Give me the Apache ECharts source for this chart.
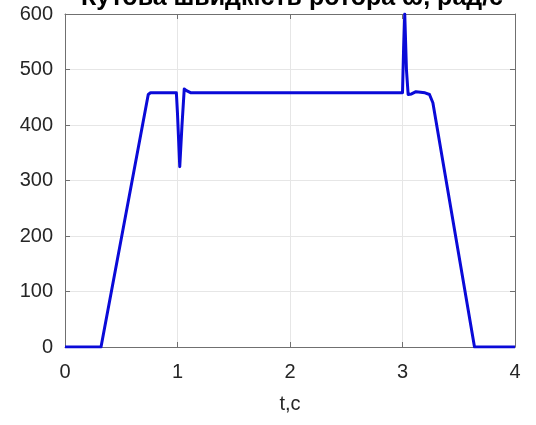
<!DOCTYPE html>
<html>
<head>
<meta charset="utf-8">
<script src="https://cdn.jsdelivr.net/npm/echarts@6/dist/echarts.min.js"></script>
<style>html,body{margin:0;padding:0;background:#fff;}#c{width:536px;height:425px;}</style>
</head>
<body>
<div id="c"></div>
<script>
var titleText = 'Кутова швидкість ротора ω, рад/с';
var xLabel = 't,c';
var tValues = [0, 0.32, 0.74, 0.76, 0.99, 1.0, 1.02, 1.04, 1.06, 1.08, 1.12, 3.0, 3.01, 3.02, 3.035, 3.05, 3.08, 3.12, 3.2, 3.24, 3.27, 3.64, 4.0];
var wValues = [0, 0, 455, 458, 458, 420, 325, 400, 465, 462, 458, 458, 540, 600, 500, 455, 456, 460, 458, 455, 440, 0, 0];
var xTicks = [0, 1, 2, 3, 4];
var yTicks = [0, 100, 200, 300, 400, 500, 600];

var data = tValues.map(function (t, i) { return [t, wValues[i]]; });
var axisColor = '#707070';
var labelColor = '#262626';
var font = 'Liberation Sans, Arial, sans-serif';

var chart = echarts.init(document.getElementById('c'), null, {renderer: 'canvas'});
chart.setOption({
  animation: false,
  backgroundColor: '#ffffff',
  title: {
    text: titleText,
    left: 287, textAlign: 'center',
    top: -19,
    textStyle: {fontFamily: font, fontSize: 25, fontWeight: 'bold', color: '#000'}
  },
  grid: {left: 65, right: 21, top: 14, bottom: 78, show: false},
  xAxis: [{
    type: 'value', min: xTicks[0], max: xTicks[xTicks.length - 1], interval: 1,
    name: xLabel, nameLocation: 'middle', nameGap: 47,
    nameTextStyle: {fontFamily: font, fontSize: 20, color: labelColor},
    axisLine: {show: true, onZero: false, lineStyle: {color: axisColor, width: 1}},
    axisTick: {show: true, inside: true, length: 5, lineStyle: {color: axisColor}},
    axisLabel: {fontFamily: font, fontSize: 20, color: labelColor, margin: 15},
    splitLine: {show: true, lineStyle: {color: '#e6e6e6', width: 1}}
  }, {
    type: 'value', position: 'top', min: xTicks[0], max: xTicks[xTicks.length - 1], interval: 1,
    axisLine: {show: true, onZero: false, lineStyle: {color: axisColor, width: 1}},
    axisTick: {show: true, inside: true, length: 5, lineStyle: {color: axisColor}},
    axisLabel: {show: false}, splitLine: {show: false}
  }],
  yAxis: [{
    type: 'value', min: yTicks[0], max: yTicks[yTicks.length - 1], interval: 100,
    axisLine: {show: true, onZero: false, lineStyle: {color: axisColor, width: 1}},
    axisTick: {show: true, inside: true, length: 5, lineStyle: {color: axisColor}},
    axisLabel: {fontFamily: font, fontSize: 20, color: labelColor, margin: 12},
    splitLine: {show: true, lineStyle: {color: '#e6e6e6', width: 1}}
  }, {
    type: 'value', position: 'right', min: yTicks[0], max: yTicks[yTicks.length - 1], interval: 100,
    axisLine: {show: true, onZero: false, lineStyle: {color: axisColor, width: 1}},
    axisTick: {show: true, inside: true, length: 5, lineStyle: {color: axisColor}},
    axisLabel: {show: false}, splitLine: {show: false}
  }],
  series: [{
    type: 'line', data: data, showSymbol: false, symbol: 'none',
    lineStyle: {color: '#0a0ad8', width: 3, join: 'round'},
    clip: true
  }]
});
</script>
</body>
</html>
